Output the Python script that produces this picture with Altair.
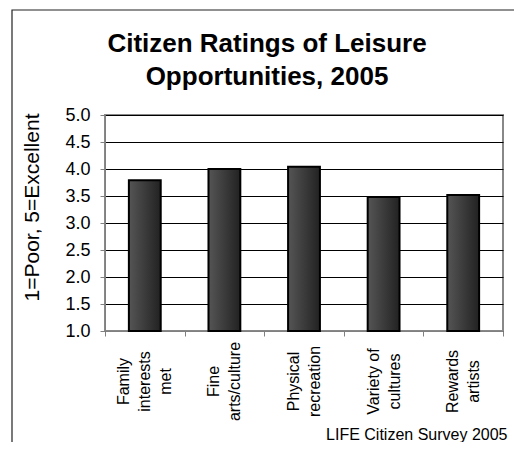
import altair as alt
import pandas as pd

categories = ["Family interests met", "Fine arts/culture", "Physical recreation",
              "Variety of cultures", "Rewards artists"]
label_lines = [["Family", "interests", "met"], ["Fine", "arts/culture"],
               ["Physical", "recreation"], ["Variety of", "cultures"], ["Rewards", "artists"]]
ratings = [3.79, 4.0, 4.04, 3.48, 3.52]
y_ticks = [1.0, 1.5, 2.0, 2.5, 3.0, 3.5, 4.0, 4.5, 5.0]
title_lines = ["Citizen Ratings of Leisure", "Opportunities, 2005"]
y_title = "1=Poor, 5=Excellent"
source = "LIFE Citizen Survey 2005"

df = pd.DataFrame({"category": categories, "rating": ratings})

LH = 21
expr = "''"
for cat, lines in reversed(list(zip(categories, label_lines))):
    arr = "[" + ",".join("'" + l + "'" for l in lines) + "]"
    expr = f"datum.label == '{cat}' ? {arr} : ({expr})"

three_line = [c for c, l in zip(categories, label_lines) if len(l) == 3]
test = " || ".join(f"datum.value == '{c}'" for c in three_line)

FONT = "Liberation Sans"

frame = alt.Chart(alt.Data(values=[{"a": 1}])).mark_rect(
    fill=None, stroke="#222222", strokeWidth=1.2
).encode(
    x=alt.value(-93), x2=alt.value(500), y=alt.value(-105), y2=alt.value(420)
)

title = alt.Chart(alt.Data(values=[{"a": 1}])).mark_text(
    font=FONT, fontSize=26, fontWeight="bold", align="center",
    baseline="alphabetic", lineHeight=32.5, color="black"
).encode(
    x=alt.value(162), y=alt.value(-63), text=alt.value(title_lines)
)

bars = alt.Chart(df).mark_bar(
    color=alt.Gradient(
        gradient="linear",
        stops=[alt.GradientStop(color="#555555", offset=0),
               alt.GradientStop(color="#222222", offset=1)],
        x1=0, x2=1, y1=0, y2=0,
    ),
    stroke="black", strokeWidth=2, width=alt.RelativeBandSize(0.4),
).encode(
    x=alt.X("category:N", sort=categories,
            scale=alt.Scale(paddingInner=0, paddingOuter=0),
            axis=alt.Axis(title=source, labelAngle=-90, labelAlign="center",
                          labelBaseline="middle", labelExpr=expr,
                          labelOffset={"condition": {"test": test, "value": -LH},
                                       "value": -LH / 2},
                          labelPadding=45, labelLineHeight=LH, labelFontSize=16,
                          tickBand="extent", tickSize=5, tickColor="#808080",
                          domainColor="#808080", grid=False,
                          titleFontSize=16, titleFontWeight="normal",
                          titleX=402, titleY=108, titleAlign="right",
                          titleAnchor="start", titleBaseline="alphabetic")),
    y=alt.Y("rating:Q", scale=alt.Scale(domain=[1, 5], nice=False, zero=False),
            axis=alt.Axis(title=y_title, values=y_ticks, format=".1f",
                          labelFontSize=18, labelPadding=10, tickSize=5,
                          tickColor="#808080", domainColor="#808080",
                          grid=True, gridColor="black", gridWidth=1,
                          titleFontSize=21, titleFontWeight="normal",
                          titlePadding=22, titleY=92)),
    y2=alt.datum(1),
)

chart = alt.layer(frame, title, bars).properties(
    width=398, height=216,
    autosize=alt.AutoSizeParams(type="none"),
    padding={"left": 97, "top": 107, "right": 11, "bottom": 111},
).configure(font=FONT).configure_axis(
    labelColor="black", titleColor="black", labelFont=FONT, titleFont=FONT
).configure_view(stroke="#888888", strokeWidth=2)

chart.save("out.html", embed_options={"renderer": "svg", "actions": False})
